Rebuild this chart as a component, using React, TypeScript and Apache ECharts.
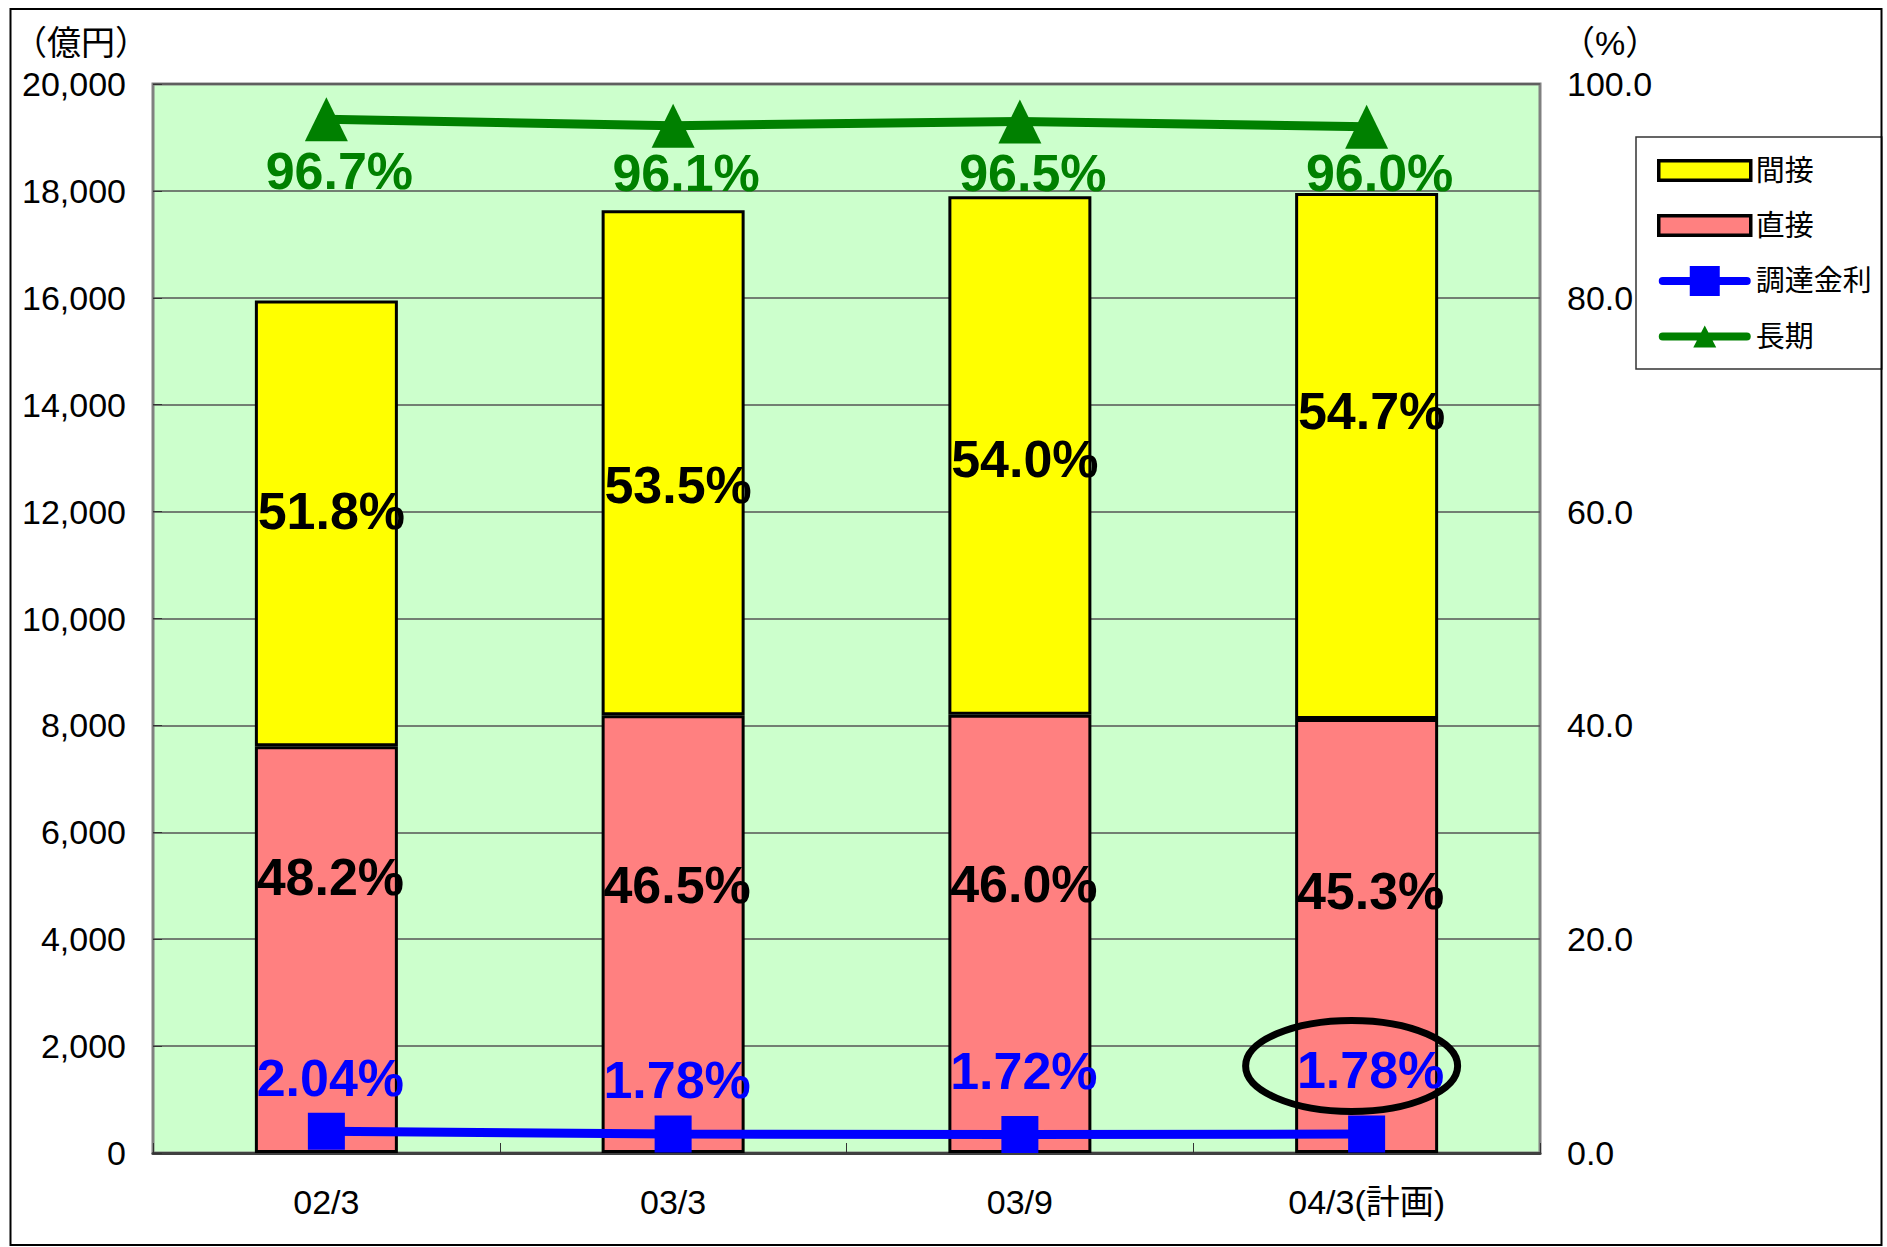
import React, { useEffect, useRef } from 'react';
import * as echarts from 'echarts';

// ---- data ----
const categories = ['02/3', '03/3', '03/9', '04/3(計画)'];
const directValues = [7610, 8190, 8200, 8120]; // 直接 (億円)
const indirectValues = [8340, 9450, 9700, 9840]; // 間接 (億円)
const directPctLabels = ['48.2%', '46.5%', '46.0%', '45.3%'];
const indirectPctLabels = ['51.8%', '53.5%', '54.0%', '54.7%'];
const fundingRate = [2.04, 1.78, 1.72, 1.78]; // 調達金利 (%)
const longTermRatio = [96.7, 96.1, 96.5, 96.0]; // 長期 (%)
const leftAxisRange = { min: 0, max: 20000, interval: 2000 };
const rightAxisRange = { min: 0, max: 100, interval: 20 };

// ---- layout nudges (label placement only, px) ----
const indirectLabelNudgeY = [-12, 22, 4, -45];
const directLabelNudgeY = [-9, -1, -2, 5];
const rateLabelNudgeY = [5, 5, -5, -5];
const longTermLabelNudgeY = [0, -5, 0, -6];

const FONT = "'Liberation Sans', Arial, 'Noto Sans CJK JP', sans-serif";

const ICON_BAR = 'path://M0,0 L86,0 L86,18 L0,18 Z';
const ICON_RECT_LINE =
  'path://M4,11 L88,11 A4,4 0 0 1 88,19 L4,19 A4,4 0 0 1 4,11 Z M31,0 L61,0 L61,30 L31,30 Z';
const ICON_TRI_LINE =
  'path://M4,11 L88,11 A4,4 0 0 1 88,19 L4,19 A4,4 0 0 1 4,11 Z M46,4 L57.5,26 L34.5,26 Z';

function withNudge(values: number[], dx: number, nudges: number[]) {
  return values.map((v, i) => ({ value: v, label: { offset: [dx, nudges[i]] } }));
}

export default function App() {
  const ref = useRef<HTMLDivElement>(null);

  useEffect(() => {
    if (!ref.current) return;
    const chart = echarts.init(ref.current, null, { renderer: 'svg' });
    const bigLabel = { fontSize: 52, fontWeight: 'bold' as const, fontFamily: FONT, lineHeight: 52 };

    const option: any = {
      animation: false,
      backgroundColor: '#ffffff',
      textStyle: { fontFamily: FONT },
      grid: {
        left: 153,
        right: 347,
        top: 84,
        bottom: 94,
        show: true,
        backgroundColor: '#CCFFCC',
        borderColor: '#808080',
        borderWidth: 3,
      },
      legend: {
        orient: 'vertical',
        left: 1636,
        top: 137,
        padding: [19, 10, 18, 21],
        itemGap: 26,
        itemWidth: 92,
        itemHeight: 30,
        backgroundColor: '#ffffff',
        borderColor: '#333333',
        borderWidth: 1.5,
        textStyle: { fontSize: 29, color: '#000', fontFamily: FONT },
        data: [
          { name: '間接', icon: ICON_BAR, itemStyle: { color: '#FFFF00', borderColor: '#000', borderWidth: 3.5 } },
          { name: '直接', icon: ICON_BAR, itemStyle: { color: '#FF8080', borderColor: '#000', borderWidth: 3.5 } },
          { name: '調達金利', icon: ICON_RECT_LINE, itemStyle: { color: '#0000FF', borderWidth: 0 } },
          { name: '長期', icon: ICON_TRI_LINE, itemStyle: { color: '#008000', borderWidth: 0 } },
        ],
      },
      xAxis: {
        type: 'category',
        data: categories,
        boundaryGap: true,
        axisLine: { show: true, lineStyle: { color: '#404040', width: 3 } },
        axisTick: { show: true, inside: true, length: 10, alignWithLabel: false, lineStyle: { color: '#333', width: 1 } },
        axisLabel: { fontSize: 34, color: '#000', margin: 32, fontFamily: FONT },
      },
      yAxis: [
        {
          type: 'value',
          min: leftAxisRange.min,
          max: leftAxisRange.max,
          interval: leftAxisRange.interval,
          name: '（億円）',
          nameLocation: 'end',
          nameGap: 24,
          nameTextStyle: { fontSize: 34, color: '#000', fontFamily: FONT, align: 'right', padding: [0, 4, 0, 0] },
          axisLine: { show: false },
          axisTick: { show: true, inside: true, length: 9, lineStyle: { color: '#333', width: 1 } },
          splitLine: { show: true, lineStyle: { color: '#555', width: 1.5 } },
          axisLabel: {
            fontSize: 34,
            color: '#000',
            margin: 27,
            fontFamily: FONT,
            formatter: (v: number) => v.toLocaleString('en-US'),
          },
        },
        {
          type: 'value',
          position: 'right',
          min: rightAxisRange.min,
          max: rightAxisRange.max,
          interval: rightAxisRange.interval,
          name: '（%）',
          nameLocation: 'end',
          nameGap: 24,
          nameTextStyle: { fontSize: 34, color: '#000', fontFamily: FONT, align: 'left', padding: [0, 0, 0, 21] },
          axisLine: { show: false },
          axisTick: { show: false },
          splitLine: { show: false },
          axisLabel: {
            fontSize: 34,
            color: '#000',
            margin: 27,
            fontFamily: FONT,
            formatter: (v: number) => v.toFixed(1),
          },
        },
      ],
      series: [
        {
          name: '直接',
          type: 'bar',
          stack: 'total',
          barWidth: 143,
          data: withNudge(directValues, 4, directLabelNudgeY),
          itemStyle: { color: '#FF8080', borderColor: '#000', borderWidth: 3 },
          label: {
            show: true,
            position: 'insideBottom',
            distance: 241,
            color: '#000',
            ...bigLabel,
            formatter: (p: any) => directPctLabels[p.dataIndex],
          },
        },
        {
          name: '間接',
          type: 'bar',
          stack: 'total',
          barWidth: 143,
          data: withNudge(indirectValues, 5, indirectLabelNudgeY),
          itemStyle: { color: '#FFFF00', borderColor: '#000', borderWidth: 3 },
          label: {
            show: true,
            position: 'inside',
            color: '#000',
            ...bigLabel,
            formatter: (p: any) => indirectPctLabels[p.dataIndex],
          },
        },
        {
          name: '調達金利',
          type: 'line',
          yAxisIndex: 1,
          data: withNudge(fundingRate, 4, rateLabelNudgeY),
          symbol: 'rect',
          symbolSize: 37,
          z: 5,
          lineStyle: { color: '#0000FF', width: 9 },
          itemStyle: { color: '#0000FF' },
          label: {
            show: true,
            position: 'top',
            distance: 14,
            color: '#0000FF',
            ...bigLabel,
            formatter: (p: any) => Number(p.value).toFixed(2) + '%',
          },
        },
        {
          name: '長期',
          type: 'line',
          yAxisIndex: 1,
          data: withNudge(longTermRatio, 13, longTermLabelNudgeY),
          symbol: 'triangle',
          symbolSize: [43, 44],
          z: 5,
          lineStyle: { color: '#008000', width: 9 },
          itemStyle: { color: '#008000' },
          label: {
            show: true,
            position: 'bottom',
            distance: 4,
            color: '#008000',
            ...bigLabel,
            formatter: (p: any) => Number(p.value).toFixed(1) + '%',
          },
        },
      ],
      graphic: [
        {
          type: 'rect',
          silent: true,
          z: 100,
          shape: { x: 10.5, y: 9, width: 1871, height: 1236 },
          style: { fill: 'none', stroke: '#000', lineWidth: 2 },
        },
      ],
    };

    chart.setOption(option);

    // Highlight ellipse around the plan-year funding-rate label
    const last = fundingRate.length - 1;
    const pt = chart.convertToPixel({ xAxisIndex: 0, yAxisIndex: 1 } as any, [last, fundingRate[last]]) as any;
    if (pt && isFinite(pt[0]) && isFinite(pt[1])) {
      chart.setOption({
        graphic: [
          option.graphic[0],
          {
            type: 'ellipse',
            silent: true,
            z: 50,
            shape: { cx: pt[0] - 15, cy: pt[1] - 68, rx: 106, ry: 45.5 },
            style: { fill: 'none', stroke: '#000', lineWidth: 7 },
          },
        ],
      });
    }

    return () => chart.dispose();
  }, []);

  return (
    <div
      ref={ref}
      style={{ position: 'fixed', left: 0, top: 0, width: 1887, height: 1247, background: '#fff' }}
    />
  );
}
